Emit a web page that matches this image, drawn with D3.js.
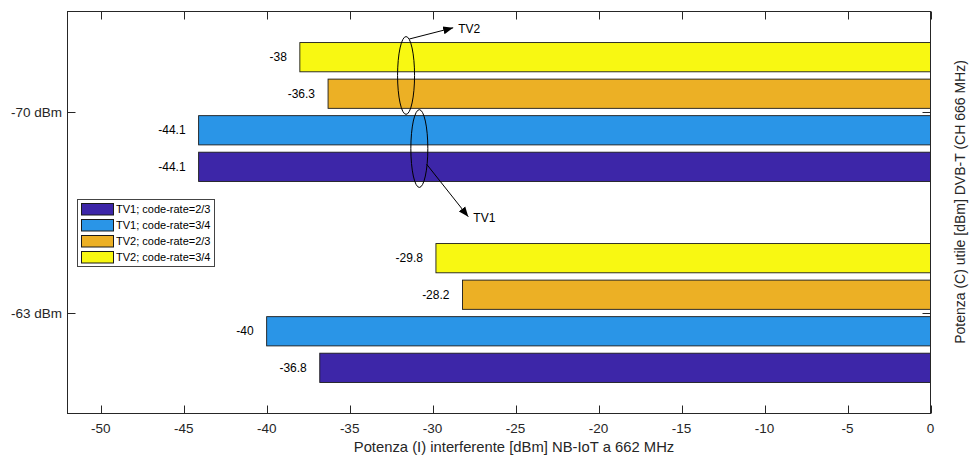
<!DOCTYPE html>
<html>
<head>
<meta charset="utf-8">
<script src="https://cdn.jsdelivr.net/npm/d3@7"></script>
<style>
  html, body { margin: 0; padding: 0; background: #fff; }
  svg { display: block; font-family: "Liberation Sans", Arial, Helvetica, sans-serif; }
</style>
</head>
<body>
<svg id="chart" width="970" height="455"></svg>
<script>
// Received DVB-T power levels (one group of bars each)
const categories = ["-70 dBm", "-63 dBm"];

// Series in legend order
const seriesNames = [
  "TV1; code-rate=2/3",
  "TV1; code-rate=3/4",
  "TV2; code-rate=2/3",
  "TV2; code-rate=3/4"
];
const tv1Rate23 = [-44.1, -36.8];
const tv1Rate34 = [-44.1, -40];
const tv2Rate23 = [-36.3, -28.2];
const tv2Rate34 = [-38, -29.8];
const seriesValues = [tv1Rate23, tv1Rate34, tv2Rate23, tv2Rate34];

const xTicks = [-50, -45, -40, -35, -30, -25, -20, -15, -10, -5, 0];

const colors = ["#3d26a8", "#2a95e7", "#ecb025", "#f8f812"];
const axisColor = "#262626";

const svg = d3.select("#chart");
const plot = { left: 67.5, right: 930.5, top: 11.5, bottom: 413.5 };

const x = d3.scaleLinear().domain([-52, 0]).range([plot.left, plot.right]);
// category positions 1..n, top to bottom
const y = d3.scaleLinear().domain([0.5, categories.length + 0.5]).range([plot.top, plot.bottom]);

const nSeries = seriesValues.length;
const groupWidth = Math.min(0.8, nSeries / (nSeries + 1.5));
const slot = groupWidth / nSeries;
const barH = slot * 0.8;
// series 0 sits at the bottom of each group, the last one at the top
const barCenter = (ci, si) => ci + 1 + (((nSeries - 1) / 2) - si) * slot;

// bars
const bars = [];
seriesValues.forEach((vals, si) => {
  vals.forEach((v, ci) => bars.push({ si, ci, v }));
});

const gBars = svg.append("g");
gBars.selectAll("rect").data(bars).enter().append("rect")
  .attr("x", d => x(d.v))
  .attr("y", d => y(barCenter(d.ci, d.si) - barH / 2))
  .attr("width", d => x(0) - x(d.v))
  .attr("height", d => y(barH) - y(0))
  .attr("fill", d => colors[d.si])
  .attr("stroke", "#1a1a1a")
  .attr("stroke-width", 0.9);

// value labels to the left of each bar
gBars.selectAll("text").data(bars).enter().append("text")
  .attr("x", d => x(d.v) - 13)
  .attr("y", d => y(barCenter(d.ci, d.si)))
  .attr("dy", "0.35em")
  .attr("text-anchor", "end")
  .attr("font-size", 12)
  .attr("fill", "#000")
  .text(d => d.v);

// axes box
const gAxes = svg.append("g").attr("fill", "none").attr("stroke", axisColor).attr("stroke-width", 1);
gAxes.append("rect")
  .attr("x", plot.left).attr("y", plot.top)
  .attr("width", plot.right - plot.left).attr("height", plot.bottom - plot.top);

const tickLen = 8;
// x ticks (bottom and top, pointing inward)
xTicks.forEach(t => {
  const px = Math.round(x(t)) + 0.5;
  gAxes.append("line").attr("x1", px).attr("x2", px).attr("y1", plot.bottom).attr("y2", plot.bottom - tickLen);
  gAxes.append("line").attr("x1", px).attr("x2", px).attr("y1", plot.top).attr("y2", plot.top + tickLen);
});
// y ticks (left and right)
categories.forEach((c, i) => {
  const py = Math.round(y(i + 1)) + 0.5;
  gAxes.append("line").attr("x1", plot.left).attr("x2", plot.left + tickLen).attr("y1", py).attr("y2", py);
  gAxes.append("line").attr("x1", plot.right).attr("x2", plot.right - tickLen).attr("y1", py).attr("y2", py);
});

// tick labels
svg.append("g").selectAll("text").data(xTicks).enter().append("text")
  .attr("x", d => x(d))
  .attr("y", 433)
  .attr("text-anchor", "middle")
  .attr("font-size", 13.5)
  .attr("fill", axisColor)
  .text(d => d);

svg.append("g").selectAll("text").data(categories).enter().append("text")
  .attr("x", 62)
  .attr("y", (d, i) => y(i + 1))
  .attr("dy", "0.35em")
  .attr("text-anchor", "end")
  .attr("font-size", 13.5)
  .attr("fill", axisColor)
  .text(d => d);

// axis titles
svg.append("text")
  .attr("x", 514)
  .attr("y", 451.5)
  .attr("text-anchor", "middle")
  .attr("font-size", 14.8)
  .attr("fill", axisColor)
  .text("Potenza (I) interferente [dBm] NB-IoT a 662 MHz");

svg.append("text")
  .attr("transform", "translate(960,202) rotate(-90)")
  .attr("dy", "0.35em")
  .attr("text-anchor", "middle")
  .attr("font-size", 14)
  .attr("fill", axisColor)
  .text("Potenza (C) utile [dBm] DVB-T (CH 666 MHz)");

// legend
const legend = svg.append("g").attr("transform", "translate(77.5,199.5)");
legend.append("rect").attr("width", 137).attr("height", 67)
  .attr("fill", "#fff").attr("stroke", "#444").attr("stroke-width", 1);
seriesNames.forEach((name, i) => {
  const row = legend.append("g").attr("transform", `translate(0,${4 + i * 16})`);
  row.append("rect").attr("x", 4).attr("y", 0).attr("width", 32).attr("height", 11.5)
    .attr("fill", colors[i]).attr("stroke", "#1a1a1a").attr("stroke-width", 1);
  row.append("text").attr("x", 38.5).attr("y", 6).attr("dy", "0.35em")
    .attr("font-size", 11).attr("fill", "#000").text(name);
});

// annotations: ellipses around the first group's bar pairs, with arrows to labels
svg.append("defs").append("marker")
  .attr("id", "arrowhead")
  .attr("viewBox", "0 0 10 10")
  .attr("refX", 10).attr("refY", 5)
  .attr("markerWidth", 10).attr("markerHeight", 10)
  .attr("markerUnits", "userSpaceOnUse")
  .attr("orient", "auto")
  .append("path").attr("d", "M0,1 L10,5 L0,9 Z").attr("fill", "#000");

const notes = [
  { label: "TV2", series: [3, 2], cx: -31.6, from: [-31.41, 0.637], to: [-28.76, 0.581] },
  { label: "TV1", series: [1, 0], cx: -30.8, from: [-30.36, 1.26], to: [-27.85, 1.521] }
];
const gNotes = svg.append("g");
notes.forEach(n => {
  const cyTop = barCenter(0, n.series[0]);
  const cyBot = barCenter(0, n.series[1]);
  const cy = (cyTop + cyBot) / 2;
  const ry = (y(cyBot) - y(cyTop)) / 2 + (y(barH) - y(0)) / 2 + 6;
  gNotes.append("ellipse")
    .attr("cx", x(n.cx)).attr("cy", y(cy))
    .attr("rx", 8.5).attr("ry", ry)
    .attr("fill", "none").attr("stroke", "#000").attr("stroke-width", 1);
  gNotes.append("line")
    .attr("x1", x(n.from[0])).attr("y1", y(n.from[1]))
    .attr("x2", x(n.to[0])).attr("y2", y(n.to[1]))
    .attr("stroke", "#000").attr("stroke-width", 1)
    .attr("marker-end", "url(#arrowhead)");
  gNotes.append("text")
    .attr("x", x(n.to[0]) + 5).attr("y", y(n.to[1]) + 1.5)
    .attr("dy", "0.35em")
    .attr("font-size", 12).attr("fill", "#000")
    .text(n.label);
});
</script>
</body>
</html>
